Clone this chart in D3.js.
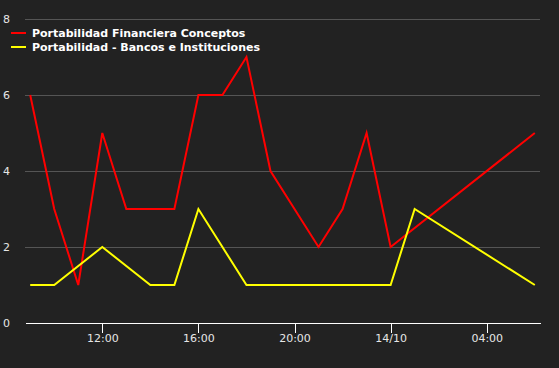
<!DOCTYPE html>
<html>
<head>
<meta charset="utf-8">
<script src="https://cdn.jsdelivr.net/npm/d3@7"></script>
<style>
  html, body { margin: 0; padding: 0; background: #222222; }
  svg { display: block; }
</style>
</head>
<body>
<script>
(function() {
  // hourly timestamps (13/10 09:00 -> 14/10 06:00)
  const redTimes = ['2014-10-13T09:00', '2014-10-13T10:00', '2014-10-13T11:00', '2014-10-13T12:00',
    '2014-10-13T13:00', '2014-10-13T14:00', '2014-10-13T15:00', '2014-10-13T16:00',
    '2014-10-13T17:00', '2014-10-13T18:00', '2014-10-13T19:00', '2014-10-13T21:00',
    '2014-10-13T22:00', '2014-10-13T23:00', '2014-10-14T00:00', '2014-10-14T06:00'];
  const redValues = [6, 3, 1, 5, 3, 3, 3, 6, 6, 7, 4, 2, 3, 5, 2, 5];

  const yellowTimes = ['2014-10-13T09:00', '2014-10-13T10:00', '2014-10-13T12:00', '2014-10-13T14:00',
    '2014-10-13T15:00', '2014-10-13T16:00', '2014-10-13T18:00', '2014-10-14T00:00',
    '2014-10-14T01:00', '2014-10-14T06:00'];
  const yellowValues = [1, 1, 2, 1, 1, 3, 1, 1, 3, 1];

  const seriesNames = ['Portabilidad Financiera Conceptos', 'Portabilidad - Bancos e Instituciones'];
  const seriesColors = ['#ff0000', '#ffff00'];

  const xTickTimes = ['2014-10-13T12:00', '2014-10-13T16:00', '2014-10-13T20:00', '2014-10-14T00:00', '2014-10-14T04:00'];
  const xTickLabels = ['12:00', '16:00', '20:00', '14/10', '04:00'];
  const yTicks = [0, 2, 4, 6, 8];

  const width = 559;
  const height = 368;
  const left = 25, right = 540, top = 19, bottom = 323;

  const parse = d3.timeParse('%Y-%m-%dT%H:%M');

  const series = [
    redTimes.map(function(t, i) { return { t: parse(t), v: redValues[i] }; }),
    yellowTimes.map(function(t, i) { return { t: parse(t), v: yellowValues[i] }; })
  ];

  const svg = d3.select('body').append('svg').attr('width', width).attr('height', height);
  svg.append('rect').attr('width', width).attr('height', height).attr('fill', '#222222');

  const xScale = d3.scaleTime()
    .domain([parse('2014-10-13T08:47'), parse('2014-10-14T06:13')])
    .range([left, right]);

  const yScale = d3.scaleLinear()
    .domain([0, 8])
    .range([bottom, top]);

  // grid lines + y labels
  const yAxis = svg.append('g')
    .attr('transform', 'translate(' + left + ',0)')
    .call(d3.axisLeft(yScale).tickValues(yTicks).tickSize(-(right - left)).tickFormat(d3.format('d')));
  yAxis.select('.domain').remove();
  yAxis.selectAll('.tick line')
    .attr('stroke', function(d) { return d === 0 ? 'none' : '#555555'; })
    .attr('shape-rendering', 'crispEdges');
  yAxis.selectAll('.tick text')
    .attr('x', -22)
    .attr('text-anchor', 'start')
    .attr('fill', '#e6e6e6')
    .style('font-family', 'DejaVu Sans, sans-serif')
    .style('font-size', '11px');

  // x axis
  const xTickDates = xTickTimes.map(parse);
  const xAxis = svg.append('g')
    .attr('transform', 'translate(0,' + bottom + ')')
    .call(d3.axisBottom(xScale).tickValues(xTickDates).tickSize(10).tickSizeOuter(0)
      .tickFormat(function(d, i) { return xTickLabels[i]; }));
  xAxis.select('.domain').attr('stroke', '#ffffff').attr('shape-rendering', 'crispEdges');
  xAxis.selectAll('.tick line').attr('stroke', '#ffffff').attr('shape-rendering', 'crispEdges');
  xAxis.selectAll('.tick text')
    .attr('y', 11)
    .attr('fill', '#e6e6e6')
    .style('font-family', 'DejaVu Sans, sans-serif')
    .style('font-size', '11px');

  // lines
  const line = d3.line()
    .x(function(d) { return xScale(d.t); })
    .y(function(d) { return yScale(d.v); });

  svg.append('g')
    .selectAll('path')
    .data(series)
    .enter()
    .append('path')
    .attr('d', line)
    .attr('fill', 'none')
    .attr('stroke', function(d, i) { return seriesColors[i]; })
    .attr('stroke-width', 2)
    .attr('stroke-linejoin', 'miter');

  // legend
  const legend = svg.append('g')
    .selectAll('g')
    .data(seriesNames)
    .enter()
    .append('g')
    .attr('transform', function(d, i) { return 'translate(11,' + (33 + i * 14) + ')'; });
  legend.append('line')
    .attr('x1', 0).attr('x2', 15)
    .attr('stroke', function(d, i) { return seriesColors[i]; })
    .attr('stroke-width', 2);
  legend.append('text')
    .attr('x', 21)
    .attr('dy', '0.35em')
    .attr('fill', '#ffffff')
    .style('font-family', 'DejaVu Sans, sans-serif')
    .style('font-weight', 'bold')
    .style('font-size', '11px')
    .text(function(d) { return d; });
})();
</script>
</body>
</html>
